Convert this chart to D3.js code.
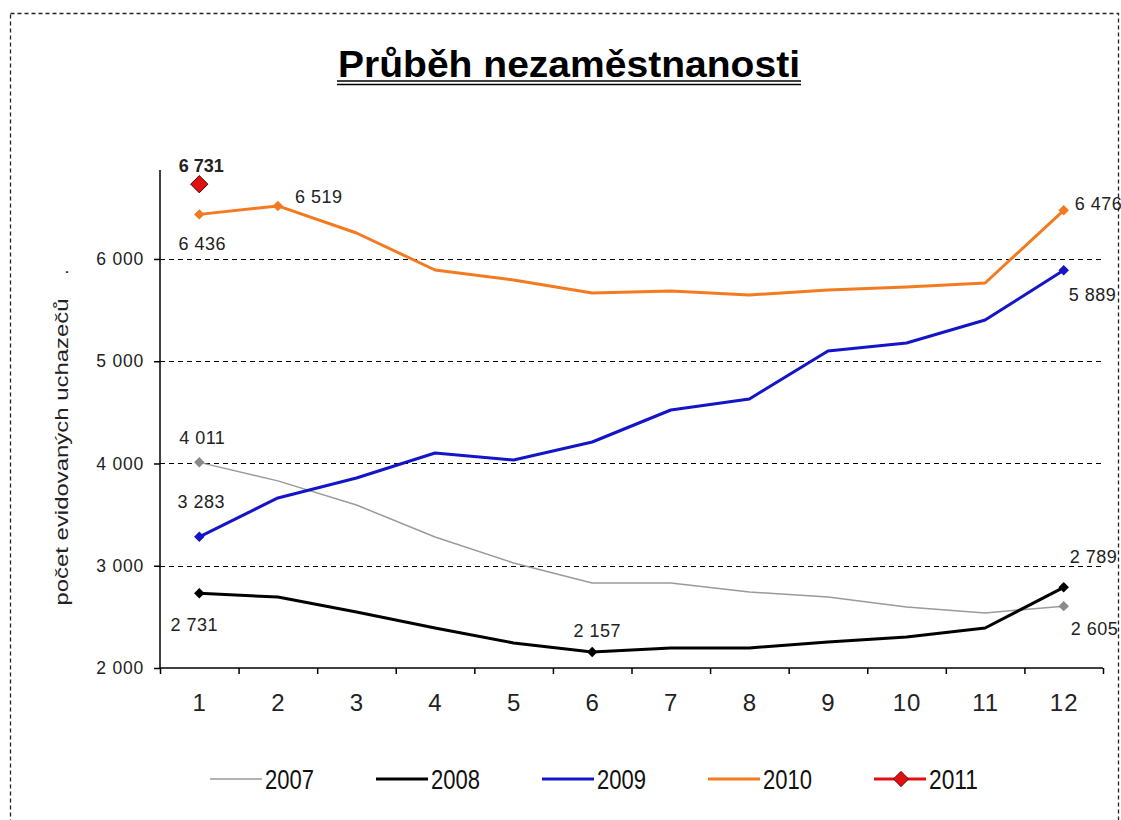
<!DOCTYPE html>
<html>
<head>
<meta charset="utf-8">
<script src="https://cdn.jsdelivr.net/npm/d3@7"></script>
<style>
  body { margin: 0; background: #fff; }
  text { font-family: "Liberation Sans", Arial, sans-serif; }
</style>
</head>
<body>
<div class="visHolder"></div>
<script>
const width = 1121,
  height = 820;

const months = [1, 2, 3, 4, 5, 6, 7, 8, 9, 10, 11, 12];
const years = ["2007", "2008", "2009", "2010", "2011"];
const values2007 = [4011, 3830, 3594, 3281, 3027, 2831, 2831, 2743, 2694, 2597, 2538, 2605];
const values2008 = [2731, 2694, 2548, 2391, 2245, 2157, 2196, 2196, 2254, 2303, 2391, 2789];
const values2009 = [3283, 3663, 3858, 4103, 4034, 4210, 4523, 4631, 5100, 5178, 5403, 5889];
const values2010 = [6436, 6519, 6254, 5892, 5795, 5667, 5687, 5648, 5697, 5726, 5765, 6476];
const values2011 = [6731];
const yTicks = [2000, 3000, 4000, 5000, 6000];

const series = [
  { year: years[0], values: values2007, color: "#9a9a9a", marker: "#8a8a8a", sw: 1.5 },
  { year: years[1], values: values2008, color: "#000000", marker: "#000000", sw: 3 },
  { year: years[2], values: values2009, color: "#1414c8", marker: "#1414c8", sw: 3 },
  { year: years[3], values: values2010, color: "#f47a20", marker: "#f47a20", sw: 3 },
  { year: years[4], values: values2011, color: "#e01010", marker: "#e01010", sw: 3 }
];

// which points get a marker + value label, and where the label sits
const labels = [
  { s: 0, i: 0, dx: 3, dy: -18, anchor: "middle" },
  { s: 0, i: 11, dx: 7, dy: 29, anchor: "start" },
  { s: 1, i: 0, dx: -5, dy: 38, anchor: "middle" },
  { s: 1, i: 5, dx: 5, dy: -15, anchor: "middle" },
  { s: 1, i: 11, dx: 6, dy: -24, anchor: "start" },
  { s: 2, i: 0, dx: 2, dy: -29, anchor: "middle" },
  { s: 2, i: 11, dx: 5, dy: 31, anchor: "start" },
  { s: 3, i: 0, dx: 3, dy: 36, anchor: "middle" },
  { s: 3, i: 1, dx: 17, dy: -3, anchor: "start" },
  { s: 3, i: 11, dx: 11, dy: 0, anchor: "start" },
  { s: 4, i: 0, dx: 2, dy: -12, anchor: "middle", bold: true }
];

const cz = d3.formatLocale({ decimal: ",", thousands: " ", grouping: [3], currency: ["", " Kč"] });
const fmt = cz.format(",d");

const svg = d3.select(".visHolder").append("svg")
  .attr("width", width).attr("height", height);

// dashed frame
svg.append("rect")
  .attr("x", 10.5).attr("y", 13.5).attr("width", 1108).attr("height", 830)
  .attr("fill", "none").attr("stroke", "#222").attr("stroke-width", 1.3)
  .attr("stroke-dasharray", "4,3");

// title
svg.append("text")
  .attr("x", 338).attr("y", 77)
  .attr("textLength", 462).attr("lengthAdjust", "spacingAndGlyphs")
  .style("font-weight", "bold").style("font-size", "37px")
  .text("Průběh nezaměstnanosti");
[81, 84.5].forEach(y => svg.append("line")
  .attr("x1", 337).attr("x2", 801).attr("y1", y).attr("y2", y)
  .attr("stroke", "#000").attr("stroke-width", 1.6));

const x = d3.scaleLinear().domain([0.5, 12.5]).range([160, 1103]);
const y = d3.scaleLinear().domain([2000, 6870]).range([668, 170]);

// grid
svg.append("g").selectAll("line")
  .data(yTicks.filter(d => d > 2000)).join("line")
  .attr("x1", x(0.5)).attr("x2", x(12.5))
  .attr("y1", d => Math.round(y(d)) + 0.5).attr("y2", d => Math.round(y(d)) + 0.5)
  .attr("stroke", "#000").attr("stroke-width", 1.2).attr("stroke-dasharray", "5,4");

// y axis
const gy = svg.append("g").attr("transform", `translate(${x(0.5)},0)`)
  .call(d3.axisLeft(y).tickValues(yTicks).tickFormat(fmt).tickSize(6).tickPadding(10));
gy.selectAll("path, line").attr("stroke", "#000").attr("stroke-width", 1.5);
gy.select(".domain").attr("d", `M0,${y(2000)}V${y(6870)}`);
gy.selectAll("text").style("font-size", "17.5px").attr("fill", "#222")
  .style("letter-spacing", "0.8px");

// x axis
const gx = svg.append("g").attr("transform", `translate(0,${y(2000)})`)
  .call(d3.axisBottom(x).tickValues(d3.range(0.5, 13, 1)).tickFormat("").tickSize(6));
gx.selectAll("path, line").attr("stroke", "#000").attr("stroke-width", 1.5);
gx.select(".domain").attr("d", `M${x(0.5)},0H${x(12.5)}`);
const gxl = svg.append("g").attr("transform", `translate(0,${y(2000)})`)
  .call(d3.axisBottom(x).tickValues(months).tickFormat(d3.format("d")).tickSize(0).tickPadding(26));
gxl.select(".domain").remove();
gxl.selectAll("text").style("font-size", "24px").attr("fill", "#222")
  .style("letter-spacing", "1px");

// y title
svg.append("text")
  .attr("transform", "translate(68,452) rotate(-90)")
  .attr("text-anchor", "middle")
  .attr("textLength", 307).attr("lengthAdjust", "spacingAndGlyphs")
  .style("font-size", "19px").attr("fill", "#222")
  .text("počet evidovaných uchazečů");
svg.append("text")
  .attr("transform", "translate(68,272) rotate(-90)")
  .attr("text-anchor", "middle")
  .style("font-size", "19px").attr("fill", "#222")
  .text(".");

// lines
const line = d3.line().x((d, i) => x(months[i])).y(d => y(d));
svg.append("g").selectAll("path")
  .data(series.filter(s => s.values.length > 1)).join("path")
  .attr("d", s => line(s.values))
  .attr("fill", "none").attr("stroke", s => s.color)
  .attr("stroke-width", s => s.sw).attr("stroke-linejoin", "round");

const diamond = d3.symbol().type(d3.symbolDiamond2);

// markers and labels
const lg = svg.append("g");
labels.forEach(l => {
  const s = series[l.s];
  const px = x(months[l.i]), py = y(s.values[l.i]);
  const big = s.year === "2011";
  lg.append("path")
    .attr("d", diamond.size(big ? 190 : 70)())
    .attr("transform", `translate(${px},${py})`)
    .attr("fill", s.marker)
    .attr("stroke", big ? "#400" : "none").attr("stroke-width", 1);
  lg.append("text")
    .attr("x", px + l.dx).attr("y", py + l.dy)
    .attr("text-anchor", l.anchor)
    .style("font-size", "18px")
    .style("font-weight", l.bold ? "bold" : "normal")
    .style("letter-spacing", l.bold ? "0px" : "0.5px")
    .attr("fill", "#222")
    .text(fmt(s.values[l.i]));
});

// legend
const legend = svg.append("g").attr("transform", "translate(210,779)");
const item = legend.selectAll("g").data(series).join("g")
  .attr("transform", (d, i) => `translate(${i * 166},0)`);
item.append("line")
  .attr("x1", 0).attr("x2", 52).attr("y1", 0).attr("y2", 0)
  .attr("stroke", d => d.color).attr("stroke-width", d => d.sw);
item.filter(d => d.year === "2011").append("path")
  .attr("d", diamond.size(150)())
  .attr("transform", "translate(27,0)")
  .attr("fill", d => d.marker).attr("stroke", "#400").attr("stroke-width", 0.8);
item.append("text")
  .attr("x", 55).attr("y", 10)
  .attr("textLength", 49).attr("lengthAdjust", "spacingAndGlyphs")
  .style("font-size", "28px")
  .attr("fill", "#111")
  .text(d => d.year);
</script>
</body>
</html>
